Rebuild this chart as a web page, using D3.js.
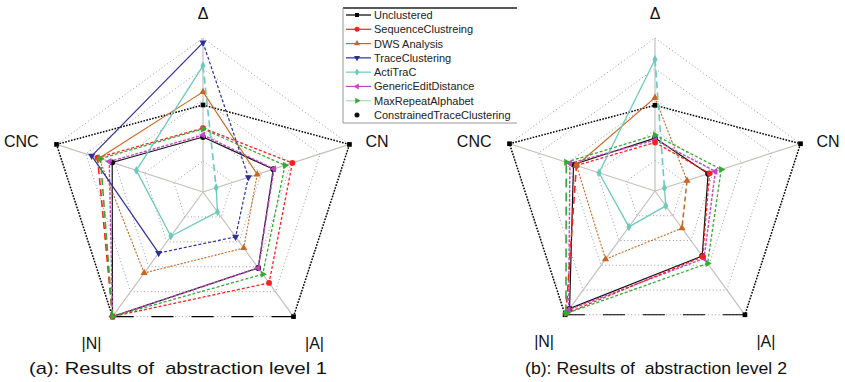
<!DOCTYPE html>
<html>
<head>
<meta charset="utf-8">
<script src="https://cdn.jsdelivr.net/npm/d3@7"></script>
<style>
  body { margin: 0; background: #fff; }
  svg { display: block; font-family: "Liberation Sans", Arial, sans-serif; }
</style>
</head>
<body>
<div id="chart"></div>
<script>
// axes, clockwise from the top
const axisNames = ['Δ', 'CN', '|A|', '|N|', 'CNC'];
const seriesNames = ['Unclustered', 'SequenceClustreing', 'DWS Analysis', 'TraceClustering',
  'ActiTraC', 'GenericEditDistance', 'MaxRepeatAlphabet', 'ConstrainedTraceClustering'];
const gridLevels = [0.2, 0.4, 0.6, 0.8, 1.0];
const titles = ['(a): Results of  abstraction level 1', '(b): Results of  abstraction level 2'];

// values per series, in axis order (Δ, CN, |A|, |N|, CNC)
const level1Values = [
  [0.565, 1, 1, 1, 1],
  [0.415, 0.61, 0.73, 1, 0.72],
  [0.65, 0.37, 0.45, 0.65, 0.71],
  [0.97, 0.31, 0.36, 0.49, 0.76],
  [0.82, 0.09, 0.16, 0.355, 0.455],
  [0.37, 0.485, 0.61, 1, 0.64],
  [0.41, 0.56, 0.66, 1, 0.70],
  [0.357, 0.48, 0.61, 1, 0.62]
];
const level2Values = [
  [0.56, 1, 1, 1, 1],
  [0.317, 0.375, 0.53, 0.99, 0.54],
  [0.61, 0.22, 0.30, 0.55, 0.54],
  null,
  [0.86, 0.065, 0.12, 0.29, 0.385],
  [0.333, 0.415, 0.545, 0.96, 0.585],
  [0.366, 0.455, 0.585, 0.99, 0.61],
  [0.346, 0.365, 0.525, 0.95, 0.56]
];

const seriesStyle = [
  { color: '#000000', symbol: d3.symbolSquare, rot: 0, dash: '1.6,1.4', width: 1.5 },
  { color: '#ff1f1f', symbol: d3.symbolCircle, rot: 0, dash: '3,2', width: 1.3 },
  { color: '#c8661f', symbol: d3.symbolTriangle, rot: 0, dash: '2,1.5', width: 1.1 },
  { color: '#2d2d9c', symbol: d3.symbolTriangle, rot: 180, dash: '3,2', width: 1.2 },
  { color: '#6ccabc', symbol: d3.symbolDiamond, rot: 0, dash: null, width: 1.3 },
  { color: '#c445c4', symbol: d3.symbolTriangle, rot: -90, dash: '3,1.5', width: 1.4 },
  { color: '#33aa33', symbol: d3.symbolTriangle, rot: 90, dash: '3,2', width: 1.3 },
  { color: '#111111', symbol: d3.symbolCircle, rot: 0, dash: null, width: 1.2 }
];
const drawOrder = [0, 7, 5, 1, 2, 3, 4, 6];
// segment i joins axis i to axis i+1; a few segments render differently in the original
const segOverride = {
  '0-0-2': { dash: '22,18', width: 1.1 },
  '0-1-3': { dash: '7,4', width: 1.6 },
  '0-6-3': { dash: '7,4', width: 1.6 },
  '0-2-0': { dash: null }, '0-2-4': { dash: null },
  '0-3-3': { dash: null }, '0-3-4': { dash: null },
  '0-4-0': { dash: '7,4', width: 1.6 },
  '1-0-2': { dash: '22,18', width: 1.1 },
  '1-1-3': { dash: '7,4', width: 1.6 },
  '1-6-3': { dash: '9,5', width: 1.6 },
  '1-2-4': { dash: null }, '1-2-1': { dash: '5,3', width: 1.5 },
  '1-4-0': { dash: '7,4', width: 1.6 }
};

const charts = [
  { cx: 203, cy: 192, R: 154, values: level1Values, title: titles[0], tx: 178, tlen: 298 },
  { cx: 655, cy: 191, R: 153, values: level2Values, title: titles[1], tx: 656, tlen: 262 }
];
const labelPos = [
  { dx: 0, dy: -19, anchor: 'middle' },
  { dx: 16, dy: 3, anchor: 'start' },
  { dx: 21, dy: 32, anchor: 'middle' },
  { dx: -21, dy: 32, anchor: 'middle' },
  { dx: -18, dy: 3, anchor: 'end' }
];

const width = 845, height = 382;
const svg = d3.select('#chart').append('svg')
  .attr('width', width).attr('height', height);
svg.append('rect').attr('width', width).attr('height', height).attr('fill', '#fff');

const angle = d3.scaleLinear().domain([0, axisNames.length]).range([0, 2 * Math.PI]);
const line = d3.line();

charts.forEach((c, ci) => {
  const r = d3.scaleLinear().domain([0, 1]).range([0, c.R]);
  const pt = (i, v) => d3.pointRadial(angle(i), r(v));
  const g = svg.append('g').attr('transform', `translate(${c.cx},${c.cy})`);

  // dotted grid rings
  g.selectAll('.ring').data(gridLevels).enter().append('path')
    .attr('d', lv => line(axisNames.map((a, i) => pt(i, lv))) + 'Z')
    .attr('fill', 'none').attr('stroke', '#9a9a9a')
    .attr('stroke-width', 1).attr('stroke-dasharray', '1,2.5');

  // spokes
  g.selectAll('.spoke').data(axisNames).enter().append('path')
    .attr('d', (a, i) => line([[0, 0], pt(i, 1)]))
    .attr('stroke', '#c4c0bc').attr('stroke-width', 1.2);

  // series
  drawOrder.forEach(si => {
    const vals = c.values[si];
    if (!vals) return;
    const st = seriesStyle[si];
    const sg = g.append('g');
    vals.forEach((v, i) => {
      const j = (i + 1) % vals.length;
      const ov = segOverride[`${ci}-${si}-${i}`] || {};
      const dash = ov.dash !== undefined ? ov.dash : st.dash;
      sg.append('path')
        .attr('d', line([pt(i, v), pt(j, vals[j])]))
        .attr('fill', 'none').attr('stroke', st.color)
        .attr('stroke-width', ov.width || st.width)
        .attr('stroke-dasharray', dash);
    });
    sg.selectAll('.m').data(vals).enter().append('path')
      .attr('d', d3.symbol().type(st.symbol).size(st.symbol === d3.symbolCircle ? 26 : 22))
      .attr('transform', (v, i) => {
        const p = pt(i, v);
        return `translate(${p[0]},${p[1]}) rotate(${st.rot})`;
      })
      .attr('fill', st.color);
  });

  // axis labels
  g.selectAll('.lab').data(axisNames).enter().append('text')
    .attr('x', (a, i) => pt(i, 1)[0] + labelPos[i].dx)
    .attr('y', (a, i) => pt(i, 1)[1] + labelPos[i].dy)
    .attr('text-anchor', (a, i) => labelPos[i].anchor)
    .attr('font-size', 16).attr('fill', '#111')
    .text(a => a);

  svg.append('text')
    .attr('x', c.tx).attr('y', 374)
    .attr('text-anchor', 'middle')
    .attr('font-size', 17).attr('fill', '#111')
    .style('white-space', 'pre')
    .attr('textLength', c.tlen).attr('lengthAdjust', 'spacingAndGlyphs')
    .text(c.title);
});

// legend
const lg = svg.append('g');
lg.append('path').attr('d', 'M343,8H517').attr('stroke', '#222').attr('stroke-width', 1.3);
lg.append('path').attr('d', 'M343,8V123H517').attr('fill', 'none').attr('stroke', '#999').attr('stroke-width', 1);
const ly = d3.scaleLinear().domain([0, seriesNames.length - 1]).range([15, 115]);
seriesNames.forEach((name, si) => {
  const st = seriesStyle[si];
  const y = ly(si);
  if (si !== 7) {
    lg.append('path').attr('d', `M346,${y}H371`)
      .attr('stroke', st.color).attr('stroke-width', 1.2)
      .attr('opacity', si === 6 ? 0.4 : 1);
  }
  lg.append('path')
    .attr('d', d3.symbol().type(st.symbol).size(st.symbol === d3.symbolCircle ? 20 : 16))
    .attr('transform', `translate(357,${y}) rotate(${st.rot})`)
    .attr('fill', st.color);
  lg.append('text').attr('x', 374).attr('y', y + 4)
    .attr('font-size', 11).attr('fill', '#222').text(name);
});
</script>
</body>
</html>
